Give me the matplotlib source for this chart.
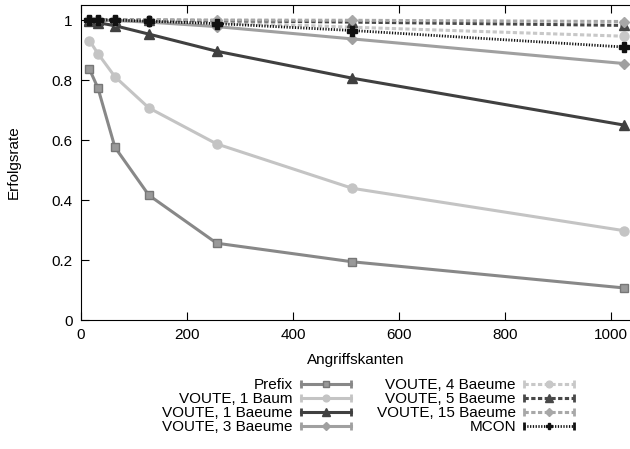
import matplotlib
matplotlib.use('Agg')
import matplotlib.pyplot as plt
from matplotlib.lines import Line2D
from matplotlib.legend_handler import HandlerLine2D

plt.rcParams['font.family'] = ['Liberation Sans', 'DejaVu Sans']
plt.rcParams['font.size'] = 11

# --- Data ---
kanten = [16, 32, 64, 128, 256, 512, 1024]
prefix = [0.836, 0.773, 0.576, 0.416, 0.256, 0.194, 0.107]
voute_1_baum = [0.931, 0.888, 0.811, 0.707, 0.587, 0.439, 0.298]
voute_1_baeume = [0.998, 0.991, 0.981, 0.953, 0.896, 0.806, 0.650]
voute_3_baeume = [1.0, 1.0, 0.998, 0.993, 0.978, 0.937, 0.855]
voute_4_baeume = [1.0, 1.0, 1.0, 0.998, 0.992, 0.976, 0.946]
voute_5_baeume = [1.0, 1.0, 1.0, 1.0, 0.998, 0.993, 0.982]
voute_15_baeume = [1.0, 1.0, 1.0, 1.0, 1.0, 0.999, 0.995]
mcon = [1.0, 1.0, 1.0, 0.996, 0.988, 0.965, 0.910]

labels = ['Prefix', 'VOUTE, 1 Baum', 'VOUTE, 1 Baeume', 'VOUTE, 3 Baeume',
          'VOUTE, 4 Baeume', 'VOUTE, 5 Baeume', 'VOUTE, 15 Baeume', 'MCON']
series = [prefix, voute_1_baum, voute_1_baeume, voute_3_baeume,
          voute_4_baeume, voute_5_baeume, voute_15_baeume, mcon]

DASH = (1.4, 0.8)
DOT = (0.45, 0.55)
styles = [
    dict(color='#888888', marker='s', ms=6.2, mfc='#999999', mec='#777777', ls='-'),
    dict(color='#c4c4c4', marker='o', ms=6.5, ls='-'),
    dict(color='#404040', marker='^', ms=7, ls='-'),
    dict(color='#a0a0a0', marker='D', ms=5.5, ls='-'),
    dict(color='#c8c8c8', marker='o', ms=6.5, dashes=DASH),
    dict(color='#484848', marker='^', ms=7, dashes=DASH),
    dict(color='#a8a8a8', marker='D', ms=5.5, dashes=DASH),
    dict(color='#111111', marker='P', ms=6.5, lw=2.0, dashes=DOT),
]


class CapHandler(HandlerLine2D):
    """gnuplot-like legend sample with little end caps"""
    def create_artists(self, legend, orig_handle, xdescent, ydescent,
                       width, height, fontsize, trans):
        arts = super().create_artists(legend, orig_handle, xdescent, ydescent,
                                      width, height, fontsize, trans)
        y = height / 2 - ydescent
        cap = Line2D([-xdescent, -xdescent + width], [y, y], ls='none',
                     marker='|', ms=6, mew=2, color=orig_handle.get_color())
        cap.set_transform(trans)
        return list(arts) + [cap]


fig = plt.figure(figsize=(6.30, 4.49), dpi=100)
ax = fig.add_axes([81 / 630, 1 - 320 / 449, (630 - 81) / 630, 315 / 449])

handles = []
for vals, lab, st in zip(series, labels, styles):
    st = dict(st)
    lw = st.pop('lw', 2.2)
    h, = ax.plot(kanten, vals, lw=lw, label=lab, clip_on=False, **st)
    handles.append(h)

ax.set_xlim(0, 1036)
ax.set_ylim(0, 1.05)
ax.set_xticks([0, 200, 400, 600, 800, 1000])
ax.set_yticks([0, 0.2, 0.4, 0.6, 0.8, 1.0])
ax.set_yticklabels(['0', '0.2', '0.4', '0.6', '0.8', '1'])
ax.tick_params(direction='in', length=6, width=0.8, top=True, right=False,
               labelsize=11, pad=6)
for sp in ax.spines.values():
    sp.set_linewidth(0.8)
ax.spines['right'].set_visible(False)

ax.set_xlabel('Angriffskanten', fontsize=11, labelpad=8)
ax.set_ylabel('Erfolgsrate', fontsize=11, labelpad=22)

# two legend columns, text right-aligned, sample to the right
leg_kw = dict(frameon=False, markerfirst=False, loc='upper right',
              handlelength=3.3, handletextpad=0.5, labelspacing=0.0,
              borderpad=0, borderaxespad=0, fontsize=11, markerscale=0.75,
              handler_map={Line2D: CapHandler()})
leg1 = fig.legend(handles[:4], labels[:4], bbox_to_anchor=(351 / 630, 1 - 378 / 449), **leg_kw)
leg2 = fig.legend(handles[4:], labels[4:], bbox_to_anchor=(574 / 630, 1 - 378 / 449), **leg_kw)
for leg in (leg1, leg2):
    for col in leg._legend_handle_box.get_children():
        col.align = 'right'

fig.savefig('out.png', dpi=100)
